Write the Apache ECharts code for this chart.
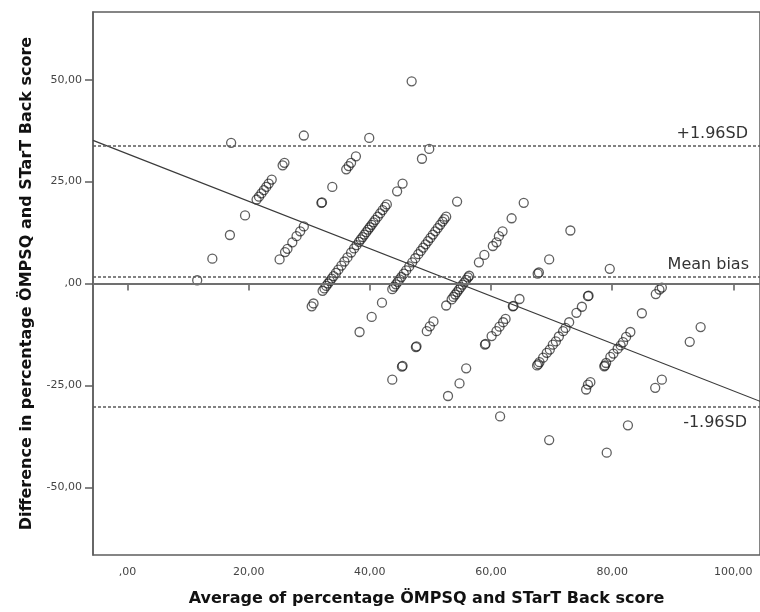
<!DOCTYPE html>
<html>
<head>
<meta charset="utf-8">
<script src="https://cdn.jsdelivr.net/npm/echarts@6/dist/echarts.min.js"></script>
<style>
  html, body { margin: 0; padding: 0; background: #fff; }
  #chart { width: 760px; height: 612px; }
</style>
</head>
<body>
<div id="chart"></div>
<script>
// average of the two percentage scores (x)
var avgScore = [
  11.5, 14.0, 16.9, 19.4, 21.3, 21.7, 22.1, 22.5, 22.9, 23.3, 23.8, 25.6, 25.9, 29.1, 17.1,
  25.1, 26.0, 26.4, 27.2, 27.9, 28.5, 29.1, 32.0, 32.1, 33.8, 36.1, 36.5, 36.9, 37.7, 39.9, 46.9,
  30.4, 30.7, 32.2, 32.5, 32.8, 33.1, 33.4, 33.7, 34.0, 34.4, 34.8, 35.3, 35.8, 36.3, 36.9, 37.4,
  37.8, 38.2, 38.5, 38.8, 39.1, 39.4, 39.7, 40.0, 40.3, 40.6, 40.9, 41.3, 41.7, 42.1, 42.5, 42.8,
  44.5, 45.4, 48.6, 49.8,
  38.3, 40.3, 42.0, 43.7, 44.0, 44.3, 44.6, 44.9, 45.2, 45.6, 46.0, 46.5, 47.0, 47.5, 48.0, 48.4,
  48.8, 49.2, 49.6, 50.0, 50.4, 50.8, 51.2, 51.6, 52.0, 52.3, 52.6, 54.4,
  43.7, 45.3, 45.4, 47.6, 47.7, 49.4, 49.9, 50.5, 52.6, 53.5, 53.8, 54.1, 54.4, 54.7, 55.0, 55.3,
  55.6, 55.9, 56.2, 56.4, 58.0, 58.9, 60.3, 60.9, 61.3, 61.9, 63.4, 65.4,
  52.9, 54.8, 55.9, 59.0, 59.1, 60.1, 60.9, 61.4, 62.0, 62.4, 63.6, 63.7, 64.7, 67.7, 67.9, 69.6, 73.1,
  61.5, 67.6, 67.8, 68.0, 68.6, 69.2, 69.7, 70.2, 70.7, 71.2, 71.9, 72.3, 72.9, 74.1, 75.0, 76.0, 76.1, 79.6,
  69.6, 75.7, 76.0, 76.4, 78.7, 78.8, 79.0, 79.7, 80.2, 80.9, 81.4, 81.8, 82.3, 83.0, 84.9, 87.2, 87.8, 88.2,
  79.1, 82.6, 87.1, 88.2, 92.8, 94.6
];
// difference between the two percentage scores (y)
var diffScore = [
  0.8, 6.1, 11.9, 16.7, 20.6, 21.3, 22.1, 22.9, 23.7, 24.5, 25.5, 29.0, 29.6, 36.3, 34.5,
  5.9, 7.7, 8.5, 10.1, 11.6, 12.8, 14.0, 19.8, 19.9, 23.7, 28.0, 28.8, 29.6, 31.2, 35.7, 49.6,
  -5.6, -4.9, -1.8, -1.2, -0.6, 0.0, 0.6, 1.2, 1.8, 2.6, 3.4, 4.4, 5.4, 6.4, 7.6, 8.6,
  9.4, 10.2, 10.8, 11.4, 12.0, 12.6, 13.2, 13.8, 14.4, 15.0, 15.6, 16.4, 17.2, 18.0, 18.8, 19.4,
  22.6, 24.5, 30.6, 33.0,
  -11.9, -8.2, -4.7, -1.4, -0.8, -0.2, 0.4, 1.0, 1.6, 2.4, 3.2, 4.2, 5.2, 6.2, 7.2, 8.0,
  8.8, 9.6, 10.4, 11.2, 12.0, 12.8, 13.6, 14.4, 15.2, 15.8, 16.4, 20.1,
  -23.6, -20.4, -20.2, -15.6, -15.4, -11.7, -10.5, -9.3, -5.4, -3.9, -3.3, -2.7, -2.1, -1.5, -0.9, -0.3,
  0.3, 0.9, 1.5, 1.9, 5.2, 7.0, 9.2, 10.1, 11.6, 12.8, 16.0, 19.8,
  -27.6, -24.5, -20.8, -15.0, -14.8, -12.9, -11.7, -10.6, -9.5, -8.7, -5.6, -5.5, -3.8, 2.4, 2.7, 5.9, 13.0,
  -32.6, -20.1, -19.8, -19.3, -18.2, -17.0, -16.2, -15.0, -14.2, -13.0, -11.7, -10.9, -9.5, -7.2, -5.7, -3.1, -3.0, 3.6,
  -38.4, -26.0, -24.8, -24.2, -20.3, -20.1, -19.5, -18.0, -17.2, -16.0, -15.2, -14.4, -13.1, -11.9, -7.3, -2.6, -1.5, -1.0,
  -41.5, -34.8, -25.6, -23.6, -14.3, -10.7
];
var xTicks = [0, 20, 40, 60, 80, 100];
var yTicks = [-50, -25, 0, 25, 50];
var upperLoA = 33.7;
var meanBias = 1.65;
var lowerLoA = -30.3;
// regression line ends, read at the plot edges
var regLine = [[-5.7, 35.1], [104.4, -28.9]];

var points = avgScore.map(function (v, i) { return [v, diffScore[i]]; });

function spssNum(v) {
  var s = Math.abs(v).toFixed(2).replace('.', ',');
  if (Math.abs(v) < 1) s = s.slice(1);
  return (v < 0 ? '-' : '') + s;
}

var axisColor = '#5e5e5e';
var chart = echarts.init(document.getElementById('chart'));
var option = {
  animation: false,
  backgroundColor: '#fff',
  grid: { left: 93, top: 12, right: -5, bottom: 57, show: true, borderColor: axisColor, borderWidth: 1.5 },
  xAxis: {
    type: 'value', min: -5.7, max: 104.4,
    name: 'Average of percentage ÖMPSQ and STarT Back score',
    nameLocation: 'middle', nameGap: 36,
    nameTextStyle: { fontFamily: 'DejaVu Sans', fontWeight: 'bold', fontSize: 16, color: '#111' },
    splitLine: { show: false },
    axisLine: { lineStyle: { color: axisColor, width: 1.5 } },
    axisTick: { customValues: xTicks, length: 7, lineStyle: { color: axisColor, width: 1.5 } },
    axisLabel: { customValues: xTicks, formatter: spssNum, margin: 12, color: '#444', fontFamily: 'DejaVu Sans', fontSize: 11 }
  },
  yAxis: {
    type: 'value', min: -66.6, max: 66.6,
    name: 'Difference in percentage ÖMPSQ and STarT Back score',
    nameLocation: 'middle', nameGap: 58,
    nameTextStyle: { fontFamily: 'DejaVu Sans', fontWeight: 'bold', fontSize: 16, color: '#111' },
    splitLine: { show: false },
    axisLine: { onZero: false, lineStyle: { color: axisColor, width: 1.5 } },
    axisTick: { customValues: yTicks, length: 8, lineStyle: { color: axisColor, width: 1.5 } },
    axisLabel: { customValues: yTicks, formatter: spssNum, margin: 11, color: '#444', fontFamily: 'DejaVu Sans', fontSize: 11 }
  },
  series: [
    {
      type: 'scatter',
      data: points,
      symbol: 'circle',
      symbolSize: 9,
      itemStyle: { color: 'rgba(0,0,0,0)', borderColor: 'rgba(20,20,20,0.85)', borderWidth: 1.3 },
      markLine: {
        silent: true,
        symbol: 'none',
        label: { fontFamily: 'DejaVu Sans', fontSize: 16, color: '#333' },
        data: [
          { yAxis: 0, lineStyle: { type: 'solid', color: '#707070', width: 1.8 }, label: { show: false } },
          { yAxis: upperLoA, lineStyle: { type: [3, 2], color: '#5a5a5a', width: 1.5 },
            label: { show: true, position: 'insideEndTop', formatter: '+1.96SD', distance: [12, 4] } },
          { yAxis: meanBias, lineStyle: { type: [3, 2], color: '#5a5a5a', width: 1.5 },
            label: { show: true, position: 'insideEndTop', formatter: 'Mean bias', distance: [11, 4] } },
          { yAxis: lowerLoA, lineStyle: { type: [3, 2], color: '#5a5a5a', width: 1.5 },
            label: { show: true, position: 'insideEndBottom', formatter: '-1.96SD', distance: [13, 8] } }
        ]
      }
    },
    {
      type: 'line',
      data: regLine,
      symbol: 'none',
      silent: true,
      lineStyle: { color: '#3a3a3a', width: 1.2 }
    }
  ]
};
chart.setOption(option);
</script>
</body>
</html>
